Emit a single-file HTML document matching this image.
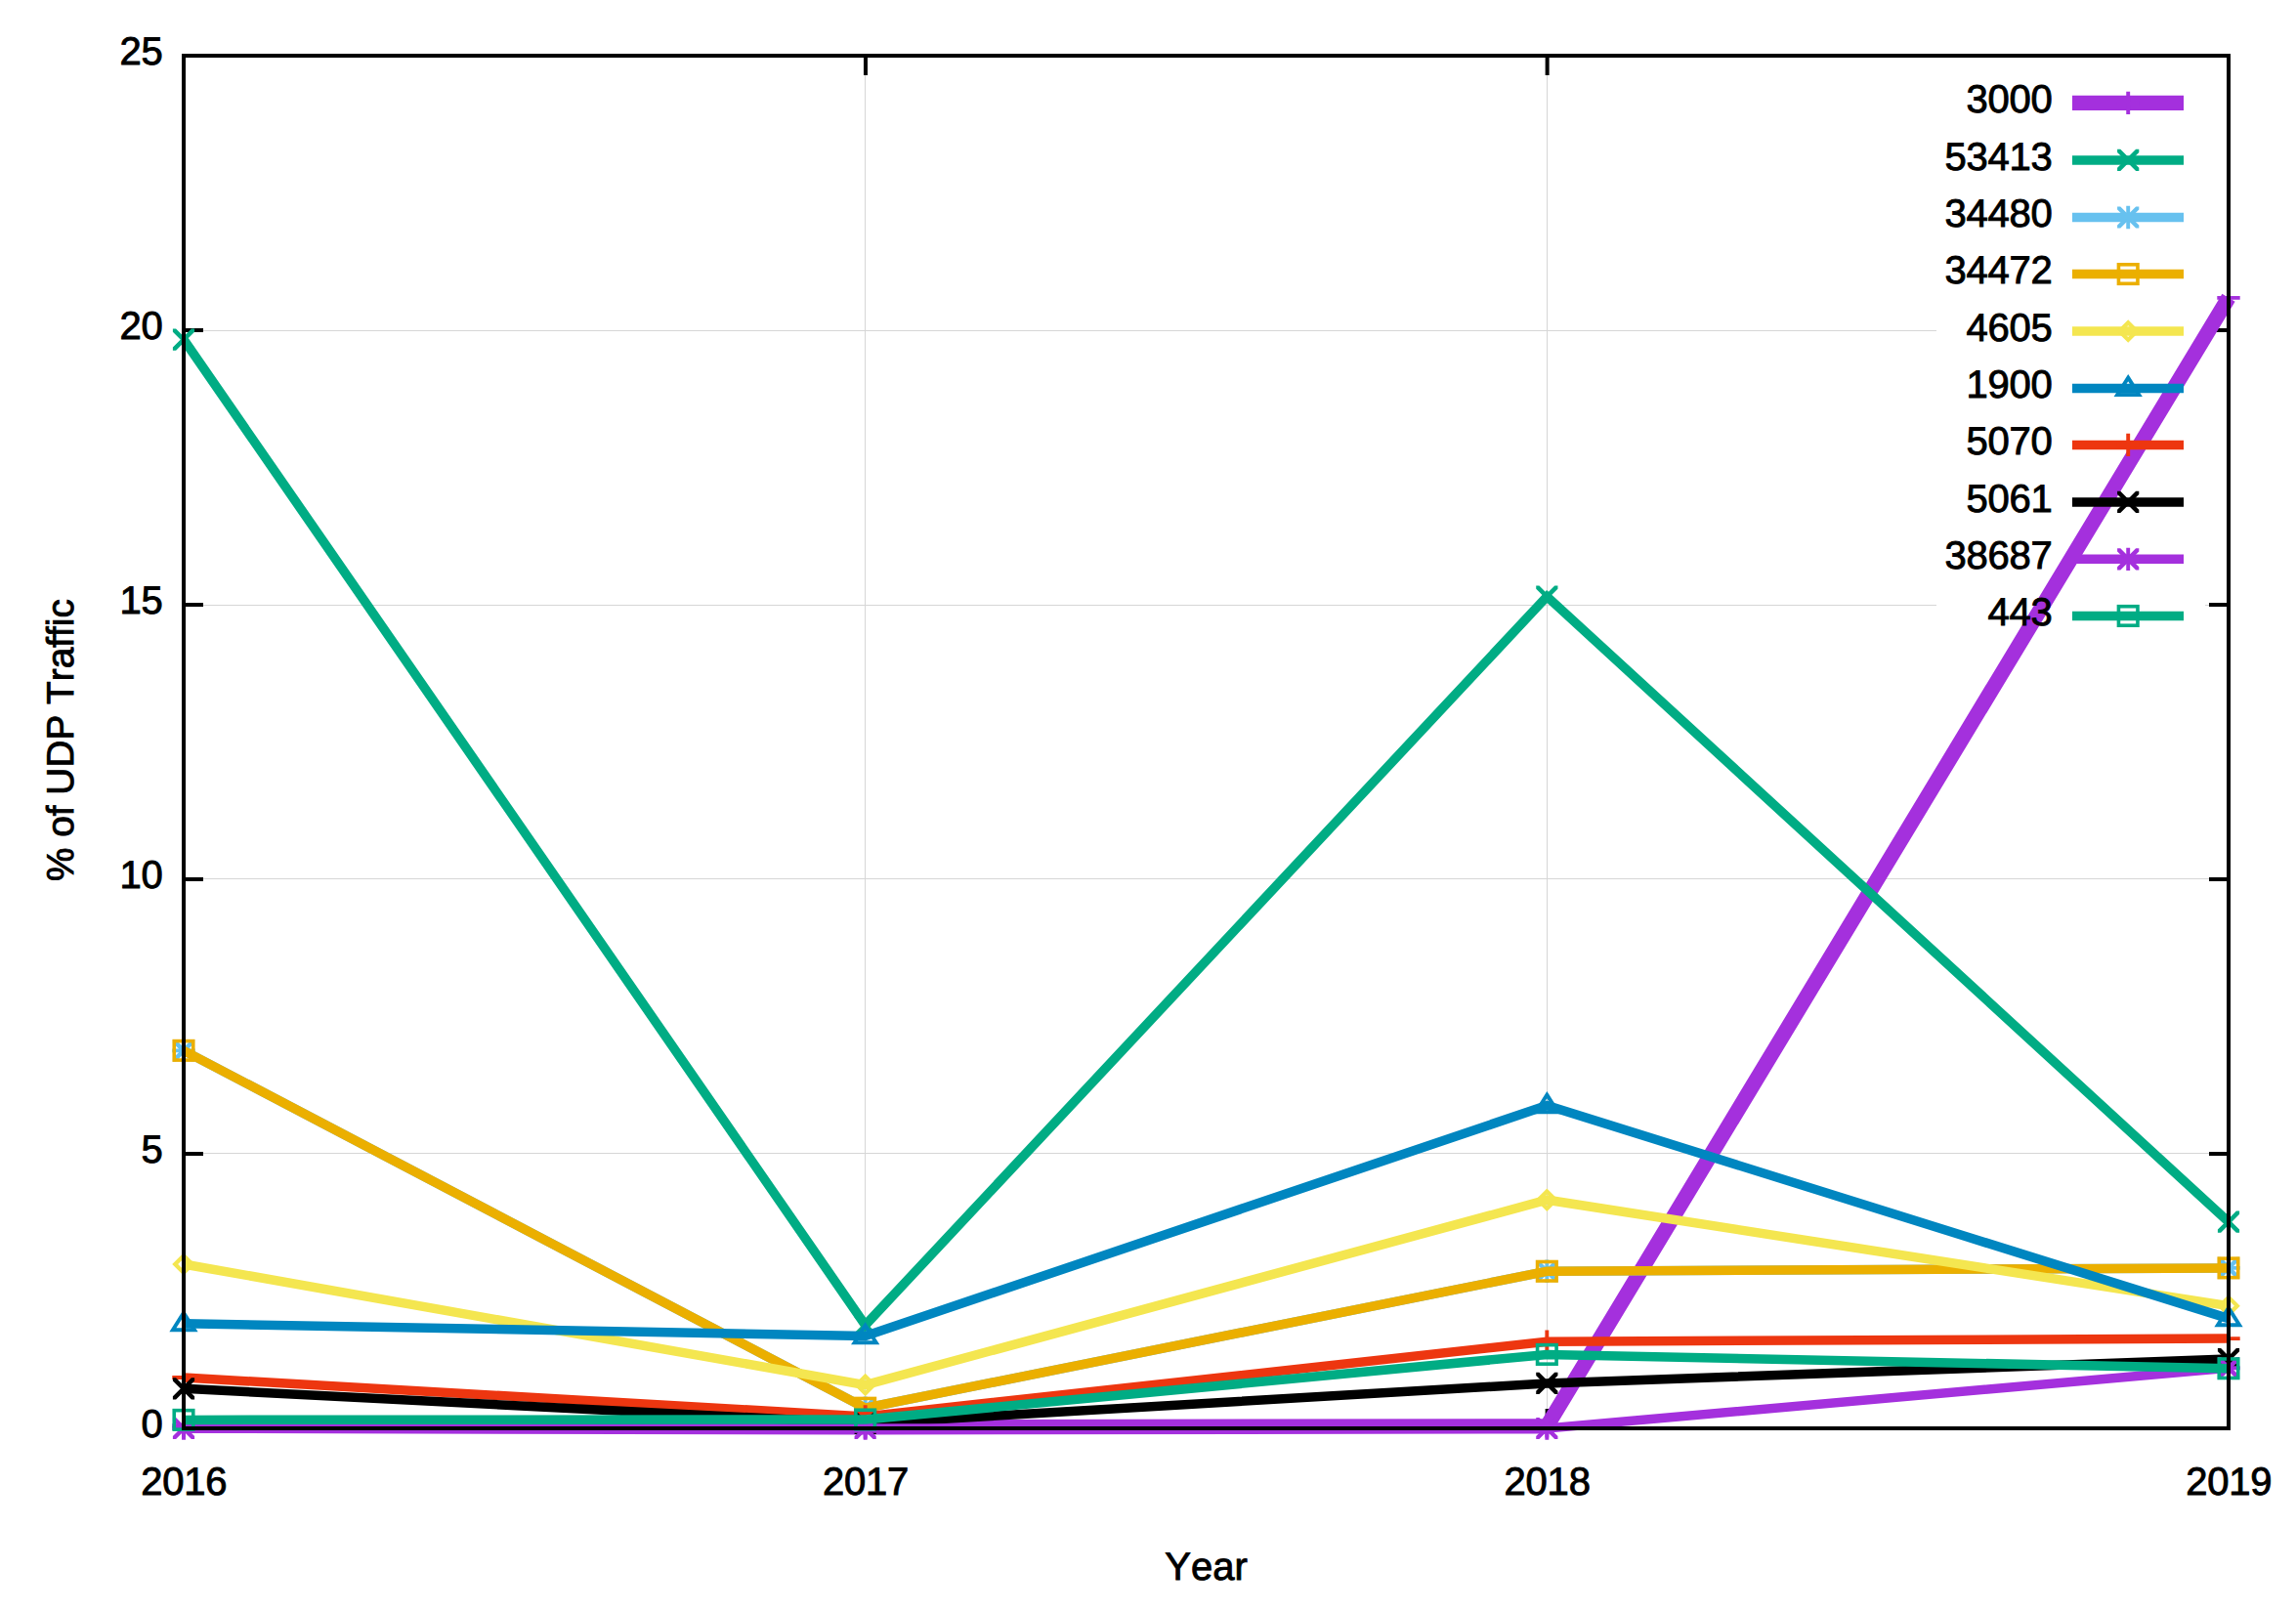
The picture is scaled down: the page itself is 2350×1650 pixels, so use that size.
<!DOCTYPE html>
<html lang="en"><head><meta charset="utf-8"><title>% of UDP Traffic by Year</title>
<style>html,body{margin:0;padding:0;background:#fff}body{width:2350px;height:1650px;overflow:hidden}svg{display:block}text{font-family:"Liberation Sans",sans-serif;font-size:40px;fill:#000;stroke:#000;stroke-width:0.9;font-kerning:none;font-variant-ligatures:none;text-rendering:geometricPrecision}.n{letter-spacing:-0.24px}</style></head><body>
<svg width="2350" height="1650" viewBox="0 0 2350 1650">
<defs>
<path id="mx" d="M-11.1 -11.1 L-7.9 -11.1 L11.1 7.9 L11.1 11.1 L7.9 11.1 L-11.1 -7.9 Z M11.1 -11.1 L11.1 -7.9 L-7.9 11.1 L-11.1 11.1 L-11.1 7.9 L7.9 -11.1 Z"/>
</defs>
<rect width="2350" height="1650" fill="#fff"/>
<path d="M188 338.5 H2281 M188 619.5 H2281 M188 899.5 H2281 M188 1180.5 H2281 M885.5 1462 V57 M1583.5 1462 V57" stroke="#d6d6d6" stroke-width="1" fill="none" shape-rendering="crispEdges"/>
<rect x="1982" y="70" width="275" height="600" fill="#fff"/>
<path d="M188 1181 h20 M2281 1181 h-20 M188 900 h20 M2281 900 h-20 M188 619 h20 M2281 619 h-20 M188 338 h20 M2281 338 h-20 M885.97 1462 v-20 M885.97 57 v20 M1583.63 1462 v-20 M1583.63 57 v20" stroke="#000" stroke-width="4" fill="none"/>
<g>
<text class="n" x="2100.6" y="115.2" text-anchor="end">3000</text>
<path d="M2121 105.4 H2235" stroke="#a430dd" stroke-width="15.4" fill="none"/>
<polyline points="188,1459.19 885.67,1460.88 1583.33,1459.75 2281,304.84" stroke="#a430dd" stroke-width="15.4" fill="none" stroke-linejoin="miter" stroke-linecap="butt"/>
<path transform="translate(2178.2 105.4)" d="M0 -11.7 V11.7 M-11.7 0 H11.7" stroke="#a430dd" stroke-width="3.9" fill="none"/>
<path transform="translate(188 1459.19)" d="M0 -11.7 V11.7 M-11.7 0 H11.7" stroke="#a430dd" stroke-width="3.9" fill="none"/>
<path transform="translate(885.67 1460.88)" d="M0 -11.7 V11.7 M-11.7 0 H11.7" stroke="#a430dd" stroke-width="3.9" fill="none"/>
<path transform="translate(1583.33 1459.75)" d="M0 -11.7 V11.7 M-11.7 0 H11.7" stroke="#a430dd" stroke-width="3.9" fill="none"/>
<path transform="translate(2281 304.84)" d="M0 -11.7 V11.7 M-11.7 0 H11.7" stroke="#a430dd" stroke-width="3.9" fill="none"/>
</g>
<g>
<text class="n" x="2100.6" y="173.75" text-anchor="end">53413</text>
<path d="M2121 163.95 H2235" stroke="#00ac84" stroke-width="9.5" fill="none"/>
<polyline points="188,347.55 885.67,1356.34 1583.33,610.57 2281,1250.69" stroke="#00ac84" stroke-width="9.5" fill="none" stroke-linejoin="miter" stroke-linecap="butt"/>
<use href="#mx" transform="translate(2178.2 163.95)" fill="#00ac84"/>
<use href="#mx" transform="translate(188 347.55)" fill="#00ac84"/>
<use href="#mx" transform="translate(885.67 1356.34)" fill="#00ac84"/>
<use href="#mx" transform="translate(1583.33 610.57)" fill="#00ac84"/>
<use href="#mx" transform="translate(2281 1250.69)" fill="#00ac84"/>
</g>
<g>
<text class="n" x="2100.6" y="232.3" text-anchor="end">34480</text>
<path d="M2121 222.5 H2235" stroke="#67c1ef" stroke-width="9.5" fill="none"/>
<polyline points="188,1075.34 885.67,1441.21 1583.33,1301.27 2281,1297.9" stroke="#67c1ef" stroke-width="9.5" fill="none" stroke-linejoin="miter" stroke-linecap="butt"/>
<g transform="translate(2178.2 222.5)"><use href="#mx" fill="#67c1ef"/><path d="M0 -11.7 V11.7 M-11.7 0 H11.7" stroke="#67c1ef" stroke-width="3.9" fill="none"/></g>
<g transform="translate(188 1075.34)"><use href="#mx" fill="#67c1ef"/><path d="M0 -11.7 V11.7 M-11.7 0 H11.7" stroke="#67c1ef" stroke-width="3.9" fill="none"/></g>
<g transform="translate(885.67 1441.21)"><use href="#mx" fill="#67c1ef"/><path d="M0 -11.7 V11.7 M-11.7 0 H11.7" stroke="#67c1ef" stroke-width="3.9" fill="none"/></g>
<g transform="translate(1583.33 1301.27)"><use href="#mx" fill="#67c1ef"/><path d="M0 -11.7 V11.7 M-11.7 0 H11.7" stroke="#67c1ef" stroke-width="3.9" fill="none"/></g>
<g transform="translate(2281 1297.9)"><use href="#mx" fill="#67c1ef"/><path d="M0 -11.7 V11.7 M-11.7 0 H11.7" stroke="#67c1ef" stroke-width="3.9" fill="none"/></g>
</g>
<g>
<text class="n" x="2100.6" y="290.35" text-anchor="end">34472</text>
<path d="M2121 280.55 H2235" stroke="#ebaf00" stroke-width="9.5" fill="none"/>
<polyline points="188,1075.34 885.67,1441.21 1583.33,1301.27 2281,1297.9" stroke="#ebaf00" stroke-width="9.5" fill="none" stroke-linejoin="miter" stroke-linecap="butt"/>
<rect transform="translate(2178.2 280.55)" x="-9.75" y="-9.75" width="19.5" height="19.5" stroke="#ebaf00" stroke-width="3.6" fill="none"/>
<rect transform="translate(188 1075.34)" x="-9.75" y="-9.75" width="19.5" height="19.5" stroke="#ebaf00" stroke-width="3.6" fill="none"/>
<rect transform="translate(885.67 1441.21)" x="-9.75" y="-9.75" width="19.5" height="19.5" stroke="#ebaf00" stroke-width="3.6" fill="none"/>
<rect transform="translate(1583.33 1301.27)" x="-9.75" y="-9.75" width="19.5" height="19.5" stroke="#ebaf00" stroke-width="3.6" fill="none"/>
<rect transform="translate(2281 1297.9)" x="-9.75" y="-9.75" width="19.5" height="19.5" stroke="#ebaf00" stroke-width="3.6" fill="none"/>
</g>
<g>
<text class="n" x="2100.6" y="348.9" text-anchor="end">4605</text>
<path d="M2121 339.1 H2235" stroke="#f4e650" stroke-width="9.5" fill="none"/>
<polyline points="188,1293.96 885.67,1417.6 1583.33,1228.21 2281,1336.67" stroke="#f4e650" stroke-width="9.5" fill="none" stroke-linejoin="miter" stroke-linecap="butt"/>
<path transform="translate(2178.2 339.1)" d="M0 -8.8 L8.8 0 L0 8.8 L-8.8 0 Z" stroke="#f4e650" stroke-width="4.2" fill="none" stroke-linejoin="miter"/>
<path transform="translate(188 1293.96)" d="M0 -8.8 L8.8 0 L0 8.8 L-8.8 0 Z" stroke="#f4e650" stroke-width="4.2" fill="none" stroke-linejoin="miter"/>
<path transform="translate(885.67 1417.6)" d="M0 -8.8 L8.8 0 L0 8.8 L-8.8 0 Z" stroke="#f4e650" stroke-width="4.2" fill="none" stroke-linejoin="miter"/>
<path transform="translate(1583.33 1228.21)" d="M0 -8.8 L8.8 0 L0 8.8 L-8.8 0 Z" stroke="#f4e650" stroke-width="4.2" fill="none" stroke-linejoin="miter"/>
<path transform="translate(2281 1336.67)" d="M0 -8.8 L8.8 0 L0 8.8 L-8.8 0 Z" stroke="#f4e650" stroke-width="4.2" fill="none" stroke-linejoin="miter"/>
</g>
<g>
<text class="n" x="2100.6" y="407.3" text-anchor="end">1900</text>
<path d="M2121 397.5 H2235" stroke="#0086c0" stroke-width="9.5" fill="none"/>
<polyline points="188,1354.66 885.67,1367.58 1583.33,1131.54 2281,1349.6" stroke="#0086c0" stroke-width="9.5" fill="none" stroke-linejoin="miter" stroke-linecap="butt"/>
<path transform="translate(2178.2 397.5)" d="M0 -10.9 L11.1 6.65 L-11.1 6.65 Z" stroke="#0086c0" stroke-width="3.9" fill="none" stroke-linejoin="miter"/>
<path d="M2170.6 402 H2185.8" stroke="#0086c0" stroke-width="1.4" fill="none"/>
<path transform="translate(188 1354.66)" d="M0 -10.9 L11.1 6.65 L-11.1 6.65 Z" stroke="#0086c0" stroke-width="3.9" fill="none" stroke-linejoin="miter"/>
<path transform="translate(885.67 1367.58)" d="M0 -10.9 L11.1 6.65 L-11.1 6.65 Z" stroke="#0086c0" stroke-width="3.9" fill="none" stroke-linejoin="miter"/>
<path transform="translate(1583.33 1131.54)" d="M0 -10.9 L11.1 6.65 L-11.1 6.65 Z" stroke="#0086c0" stroke-width="3.9" fill="none" stroke-linejoin="miter"/>
<path transform="translate(2281 1349.6)" d="M0 -10.9 L11.1 6.65 L-11.1 6.65 Z" stroke="#0086c0" stroke-width="3.9" fill="none" stroke-linejoin="miter"/>
</g>
<g>
<text class="n" x="2100.6" y="465.2" text-anchor="end">5070</text>
<path d="M2121 455.4 H2235" stroke="#ed3610" stroke-width="9.5" fill="none"/>
<polyline points="188,1410.02 885.67,1449.92 1583.33,1373.2 2281,1370.11" stroke="#ed3610" stroke-width="9.5" fill="none" stroke-linejoin="miter" stroke-linecap="butt"/>
<path transform="translate(2178.2 455.4)" d="M0 -11.7 V11.7 M-11.7 0 H11.7" stroke="#ed3610" stroke-width="3.9" fill="none"/>
<path transform="translate(188 1410.02)" d="M0 -11.7 V11.7 M-11.7 0 H11.7" stroke="#ed3610" stroke-width="3.9" fill="none"/>
<path transform="translate(885.67 1449.92)" d="M0 -11.7 V11.7 M-11.7 0 H11.7" stroke="#ed3610" stroke-width="3.9" fill="none"/>
<path transform="translate(1583.33 1373.2)" d="M0 -11.7 V11.7 M-11.7 0 H11.7" stroke="#ed3610" stroke-width="3.9" fill="none"/>
<path transform="translate(2281 1370.11)" d="M0 -11.7 V11.7 M-11.7 0 H11.7" stroke="#ed3610" stroke-width="3.9" fill="none"/>
</g>
<g>
<text class="n" x="2100.6" y="523.7" text-anchor="end">5061</text>
<path d="M2121 513.9 H2235" stroke="#000000" stroke-width="9.5" fill="none"/>
<polyline points="188,1421.31 885.67,1456.94 1583.33,1415.92 2281,1391.08" stroke="#000000" stroke-width="9.5" fill="none" stroke-linejoin="miter" stroke-linecap="butt"/>
<use href="#mx" transform="translate(2178.2 513.9)" fill="#000000"/>
<use href="#mx" transform="translate(188 1421.31)" fill="#000000"/>
<use href="#mx" transform="translate(885.67 1456.94)" fill="#000000"/>
<use href="#mx" transform="translate(1583.33 1415.92)" fill="#000000"/>
<use href="#mx" transform="translate(2281 1391.08)" fill="#000000"/>
</g>
<g>
<text class="n" x="2100.6" y="582.15" text-anchor="end">38687</text>
<path d="M2121 572.35 H2235" stroke="#a430dd" stroke-width="9.5" fill="none"/>
<polyline points="188,1462 885.67,1462 1583.33,1462 2281,1400.18" stroke="#a430dd" stroke-width="9.5" fill="none" stroke-linejoin="miter" stroke-linecap="butt"/>
<g transform="translate(2178.2 572.35)"><use href="#mx" fill="#a430dd"/><path d="M0 -11.7 V11.7 M-11.7 0 H11.7" stroke="#a430dd" stroke-width="3.9" fill="none"/></g>
<g transform="translate(188 1462)"><use href="#mx" fill="#a430dd"/><path d="M0 -11.7 V11.7 M-11.7 0 H11.7" stroke="#a430dd" stroke-width="3.9" fill="none"/></g>
<g transform="translate(885.67 1462)"><use href="#mx" fill="#a430dd"/><path d="M0 -11.7 V11.7 M-11.7 0 H11.7" stroke="#a430dd" stroke-width="3.9" fill="none"/></g>
<g transform="translate(1583.33 1462)"><use href="#mx" fill="#a430dd"/><path d="M0 -11.7 V11.7 M-11.7 0 H11.7" stroke="#a430dd" stroke-width="3.9" fill="none"/></g>
<g transform="translate(2281 1400.18)"><use href="#mx" fill="#a430dd"/><path d="M0 -11.7 V11.7 M-11.7 0 H11.7" stroke="#a430dd" stroke-width="3.9" fill="none"/></g>
</g>
<g>
<text class="n" x="2100.6" y="640.26" text-anchor="end">443</text>
<path d="M2121 630.46 H2235" stroke="#00ac84" stroke-width="9.5" fill="none"/>
<polyline points="188,1453.4 885.67,1453.01 1583.33,1386.41 2281,1400.74" stroke="#00ac84" stroke-width="9.5" fill="none" stroke-linejoin="miter" stroke-linecap="butt"/>
<rect transform="translate(2178.2 630.46)" x="-9.75" y="-9.75" width="19.5" height="19.5" stroke="#00ac84" stroke-width="3.6" fill="none"/>
<rect transform="translate(188 1453.4)" x="-9.75" y="-9.75" width="19.5" height="19.5" stroke="#00ac84" stroke-width="3.6" fill="none"/>
<rect transform="translate(885.67 1453.01)" x="-9.75" y="-9.75" width="19.5" height="19.5" stroke="#00ac84" stroke-width="3.6" fill="none"/>
<rect transform="translate(1583.33 1386.41)" x="-9.75" y="-9.75" width="19.5" height="19.5" stroke="#00ac84" stroke-width="3.6" fill="none"/>
<rect transform="translate(2281 1400.74)" x="-9.75" y="-9.75" width="19.5" height="19.5" stroke="#00ac84" stroke-width="3.6" fill="none"/>
</g>
<rect x="188" y="57" width="2093" height="1405" stroke="#000" stroke-width="4" fill="none"/>
<text class="n" x="166.5" y="1471.1" text-anchor="end">0</text>
<text class="n" x="166.5" y="1190.1" text-anchor="end">5</text>
<text class="n" x="166.5" y="909.1" text-anchor="end">10</text>
<text class="n" x="166.5" y="628.1" text-anchor="end">15</text>
<text class="n" x="166.5" y="347.1" text-anchor="end">20</text>
<text class="n" x="166.5" y="66.1" text-anchor="end">25</text>
<text class="n" x="188.3" y="1529.9" text-anchor="middle">2016</text>
<text class="n" x="885.97" y="1529.9" text-anchor="middle">2017</text>
<text class="n" x="1583.63" y="1529.9" text-anchor="middle">2018</text>
<text class="n" x="2281.3" y="1529.9" text-anchor="middle">2019</text>
<text x="1234.6" y="1616.8" text-anchor="middle">Year</text>
<text transform="translate(75.4 757.6) rotate(-90)" text-anchor="middle" style="font-size:38.8px">% of UDP Traffic</text>
</svg></body></html>
